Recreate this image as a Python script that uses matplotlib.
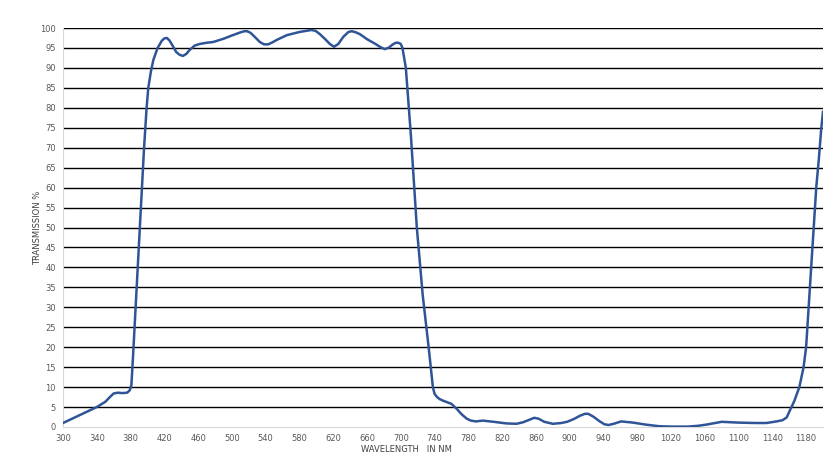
import matplotlib.pyplot as plt

# Transmission curve
wavelength = [300, 320, 340, 350, 356, 360, 365, 370, 376, 379, 381, 383, 386,
              391, 396, 399, 401, 404, 407, 412, 417, 420, 423, 426, 430, 434,
              438, 442, 446, 450, 456, 462, 470, 478, 490, 501, 510, 515, 518,
              522, 527, 533, 538, 543, 548, 553, 565, 580, 588, 594, 599, 604,
              610, 616, 621, 626, 632, 638, 642, 647, 652, 660, 670, 676, 681,
              686, 690, 694, 697, 700, 702, 706, 712, 719, 726, 733, 736, 738,
              740, 743, 746, 750, 755, 760, 766, 772, 778, 783, 789, 797, 810,
              825, 837, 845, 852, 858, 863, 870, 880, 890, 897, 905, 912, 918,
              922, 928, 935, 941, 946, 952, 961, 975, 990, 1006, 1020, 1040,
              1052, 1062, 1072, 1080, 1090, 1100, 1120, 1133, 1145, 1152, 1157,
              1160, 1166, 1172, 1177, 1180, 1183, 1186, 1189, 1192, 1195, 1198,
              1200]
transmission = [1, 3, 5, 6.3, 7.6, 8.4, 8.6, 8.5, 8.6, 9.2, 10.5, 18, 30,
                50, 70, 80, 85, 89, 92, 95, 96.8, 97.4, 97.5, 96.9, 95.5, 94,
                93.3, 93, 93.5, 94.5, 95.6, 96, 96.3, 96.5, 97.3, 98.2, 98.9,
                99.2, 99.2, 98.8, 97.8, 96.5, 95.9, 95.9, 96.4, 97, 98.2, 99,
                99.3, 99.5, 99.3, 98.5, 97.3, 96, 95.3, 96, 97.8, 99, 99.2,
                98.9, 98.4, 97.2, 96, 95.2, 94.7, 95.1, 95.8, 96.3, 96.3, 96, 95,
                90, 73, 50, 33, 20, 14, 10, 8.3, 7.5, 7, 6.6, 6.2, 5.8, 4.6,
                3.2, 2.1, 1.6, 1.4, 1.6, 1.3, 0.9, 0.8, 1.2, 1.8, 2.3, 2.1, 1.3,
                0.8, 1.0, 1.3, 2.0, 2.8, 3.3, 3.3, 2.6, 1.5, 0.7, 0.5, 0.8, 1.4,
                1.1, 0.6, 0.2, 0.1, 0.1, 0.3, 0.6, 1.0, 1.3, 1.2, 1.1, 1.0, 1.0,
                1.4, 1.7, 2.4, 3.8, 6.5, 10, 15, 20, 30, 40, 50, 60, 67, 75, 79]

x_ticks = list(range(300, 1181, 40))
y_ticks = list(range(0, 101, 5))

fig = plt.figure(figsize=(8.37, 4.68), dpi=100)
ax = fig.add_axes([63 / 837, 41 / 468, 760 / 837, 399 / 468])

for v in y_ticks[1:]:
    ax.axhline(v, color="black", lw=1, zorder=1)

ax.plot(wavelength, transmission, color="#2f5597", lw=1.8, zorder=3,
        solid_joinstyle="round")

ax.set_xlim(300, 1200)
ax.set_ylim(0, 100)
ax.set_xticks(x_ticks)
ax.set_yticks(y_ticks)
ax.tick_params(length=0, labelsize=6, colors="#595959", pad=5)

for side in ["top", "right"]:
    ax.spines[side].set_visible(False)
for side in ["left", "bottom"]:
    ax.spines[side].set_color("#d9d9d9")

fig.text(406 / 837, 1 - 450 / 468, "WAVELENGTH   IN NM", fontsize=6,
         color="#404040", ha="center", va="center")
fig.text(38 / 837, 1 - 228 / 468, "TRANSMISSION %", fontsize=6,
         color="#404040", ha="center", va="center", rotation=90)

fig.savefig("out.png", dpi=100)
